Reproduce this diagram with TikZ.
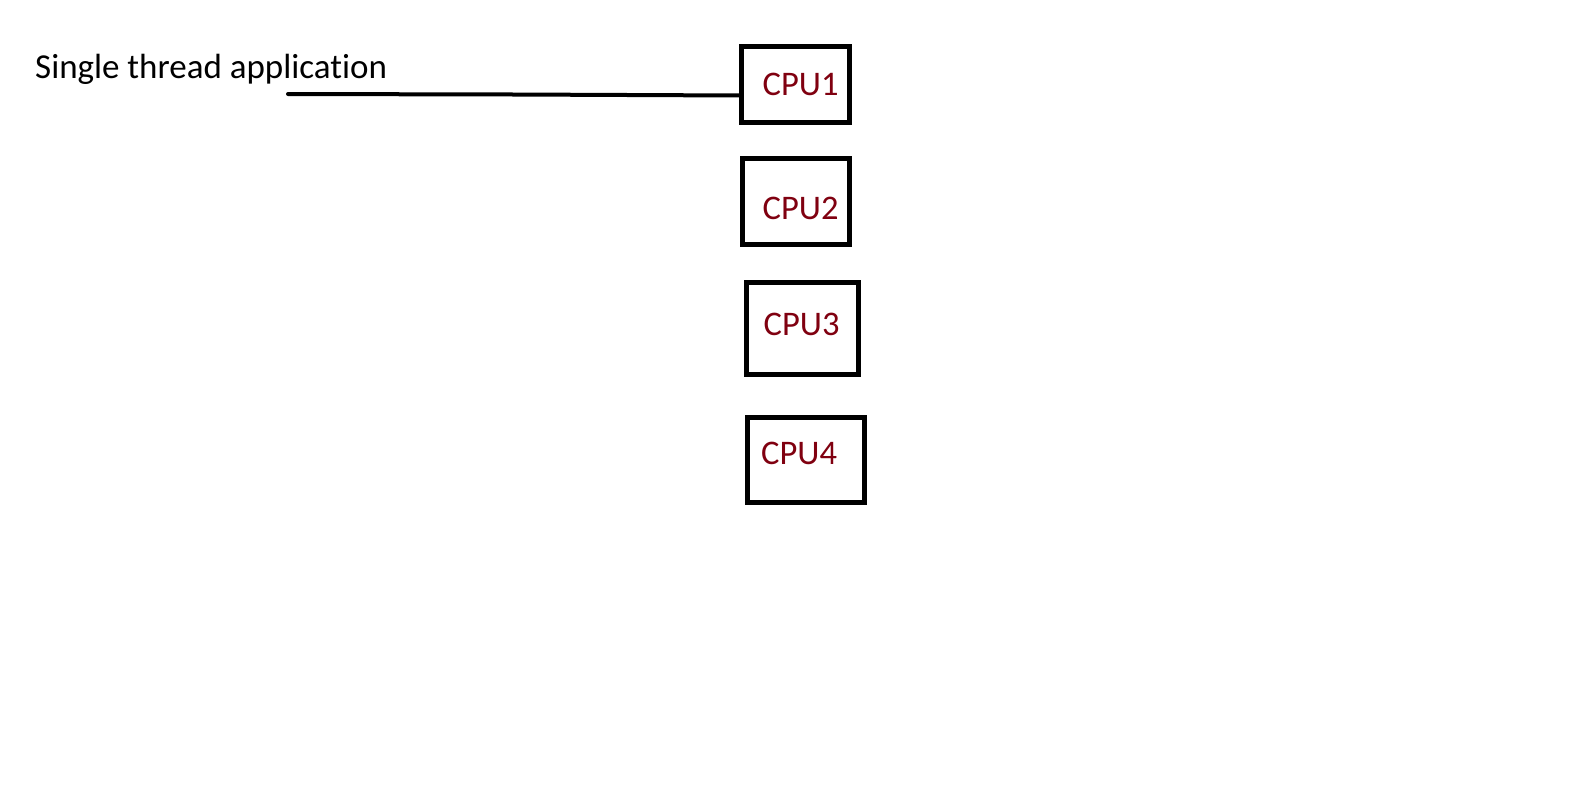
\documentclass[tikz,border=0pt]{standalone}
\usepackage{fontspec}
\setmainfont[RawFeature={-liga}]{Carlito}
\definecolor{cpured}{RGB}{128,0,16}
\begin{document}
\begin{tikzpicture}[x=1pt,y=-1pt,
  box/.style={draw, line width=5pt, inner sep=0pt, outer sep=0pt},
  cpulabel/.style={text=cpured, font=\fontsize{34.5}{40}\selectfont, anchor=base west, inner sep=0pt},
  title/.style={text=black, font=\fontsize{35}{40}\selectfont, anchor=base west, inner sep=0pt},
  wire/.style={line width=4pt, line cap=round}]
\useasboundingbox[fill=white] (0,0) rectangle (1570,788);
\node[title] (app) at (35,78) {Single thread application};
\node[box, minimum width=108pt, minimum height=76pt] (cpu1) at (795,84) {};
\node[box, minimum width=106.5pt, minimum height=85.5pt] (cpu2) at (795.75,201.25) {};
\node[box, minimum width=112pt, minimum height=92pt] (cpu3) at (802,328) {};
\node[box, minimum width=117pt, minimum height=85pt] (cpu4) at (805.5,459.5) {};
\node[cpulabel] (l1) at (762.5,95) {CPU1};
\node[cpulabel] (l2) at (762.5,219) {CPU2};
\node[cpulabel] (l3) at (763.5,335) {CPU3};
\node[cpulabel] (l4) at (761,464) {CPU4};
\coordinate (start) at (288,94);
\coordinate (mid) at (515,94.5);
\draw[wire] (start) -- (mid) -- (cpu1.west |- 0,95.5);
\end{tikzpicture}
\end{document}
